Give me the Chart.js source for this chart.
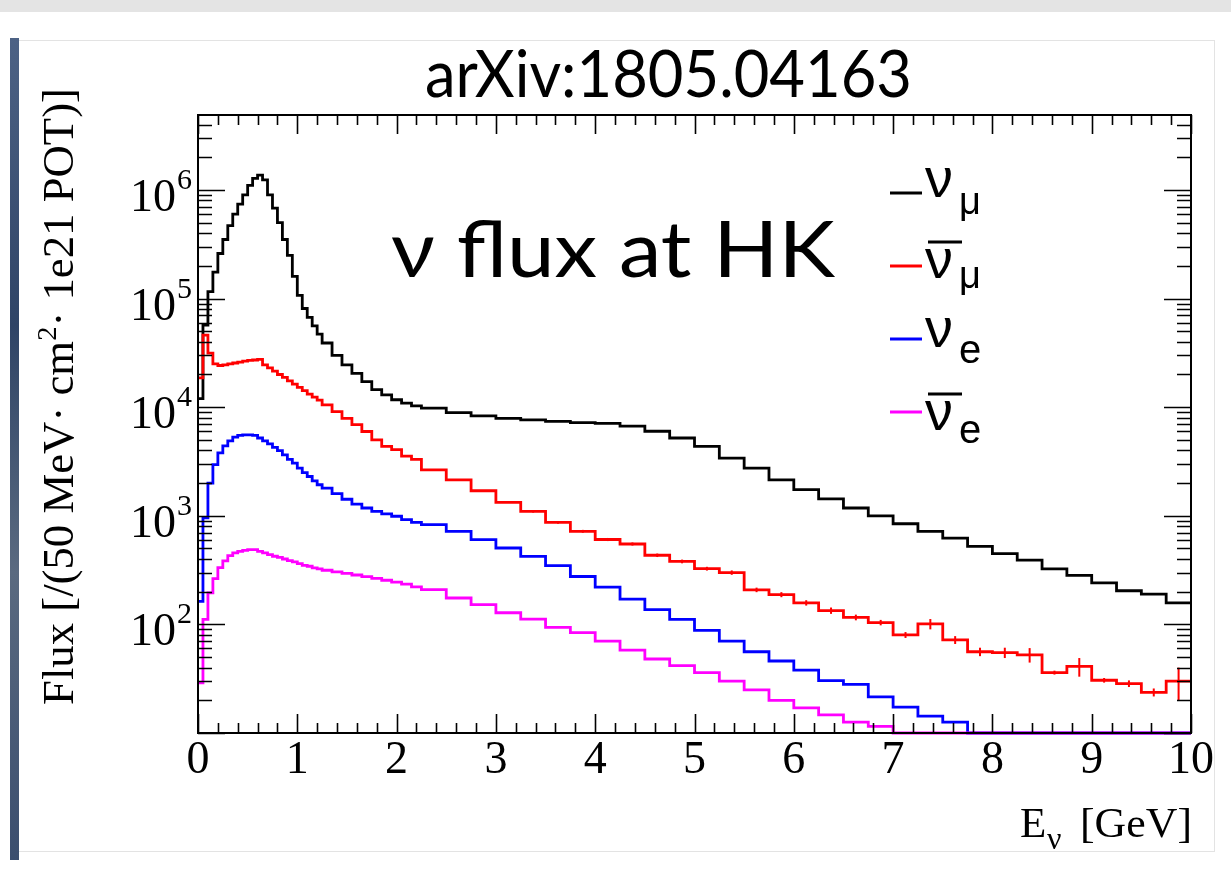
<!DOCTYPE html>
<html><head><meta charset="utf-8">
<script src="https://cdn.jsdelivr.net/npm/chart.js@4.4.1/dist/chart.umd.min.js"></script>
<style>
html,body{margin:0;padding:0;background:#fff;width:1231px;height:888px;overflow:hidden;}
#band{position:absolute;left:0;top:0;width:1231px;height:12px;background:#e4e4e4;}
#card{position:absolute;left:19px;top:40px;width:1195px;height:810px;border:1px solid #e3e3e3;border-left:none;}
#strip{position:absolute;left:10px;top:38px;width:9px;height:822px;background:linear-gradient(#4d6285,#2f4466 35%,#5a6a80 65%,#3b4e6e);}
#wrap{position:absolute;left:0;top:0;width:1231px;height:888px;}
</style></head><body>
<div id="band"></div><div id="card"></div><div id="strip"></div>
<div id="wrap"><canvas id="c" width="1231" height="888"></canvas></div>
<script>
// ---- data ----
const chartTitle = 'arXiv:1805.04163';
const annotation = '\u03bd flux at HK';
const xTickLabels = ['0','1','2','3','4','5','6','7','8','9','10'];
const yTickExponents = ['2','3','4','5','6'];
const binEdgesGeV = [0,0.05,0.1,0.15,0.2,0.25,0.3,0.35,0.4,0.45,0.5,0.55,0.6,0.65,0.7,0.75,0.8,0.85,0.9,0.95,1.0,1.05,1.1,1.15,1.2,1.25,
  1.35,1.45,1.55,1.65,1.75,1.85,1.95,2.05,2.15,2.25,
  2.5,2.75,3.0,3.25,3.5,3.75,4.0,4.25,4.5,4.75,5.0,5.25,5.5,5.75,6.0,6.25,6.5,6.75,7.0,7.25,7.5,7.75,8.0,8.25,8.5,8.75,9.0,9.25,9.5,9.75,10.0];
const fluxNumu = [12000,57000,116000,175000,260000,350000,470000,600000,740000,900000,1100000,1280000,1370000,1240000,900000,680000,500000,350000,250000,160000,107000,81000,67000,56000,47000,
  39000,30000,24500,20500,17200,14500,13000,11700,10900,10300,
  9800,8900,8300,7900,7650,7400,7200,7100,6700,6000,5200,4360,3400,2750,2140,1740,1430,1180,1000,845,720,624,523,448,390,325,283,241,204,190,158];
const fluxNumubar = [18600,46000,31500,25000,24200,24500,25000,25500,26000,26500,27000,27200,27500,24500,23000,21500,20000,18800,17500,16300,15200,14200,13200,12400,11600,
  10500,9100,7900,6900,5970,5000,4360,4070,3550,3300,
  2650,2140,1700,1330,1100,870,720,605,550,433,380,326,300,208,188,158,134,116,104,80,101,72,56,55,52.5,36,41,30.6,28.5,23.7,30];
const errNumubar = [0,0,0,0,0,0,0,0,0,0,0,0,0,0,0,0,0,0,0,0,0,0,0,0,0,
  0,0,0,0,0,0,0,0,0,0,
  0,0,0,0,30,25,22,20,18,16,15,13,14,10,10,9,9,7,6,5,11,6,5,6,8,1.5,8,1.5,2,2,10];
const fluxNue = [163,955,2000,2960,3800,4400,4900,5300,5500,5570,5570,5500,5200,4900,4600,4270,3980,3630,3300,3050,2750,2500,2300,2100,1930,
  1800,1600,1420,1280,1180,1100,1040,990,920,870,
  828,720,603,505,423,347,276,220,171,137,111,88,70,56,46,38,30.4,28,21.5,17.3,14.3,12.6,10,10,10,10,10,10,10,10,10];
const fluxNuebar = [29,111,195,264,333,384,430,455,471,481,488,488,471,455,439,424,414,400,386,376,362,350,343,331,324,
  315,305,295,285,275,265,255,245,235,222,
  209,175,152,128,112,94,84,70,58,48,41.7,36,30,25,20,17,14.7,12.6,11.5,10,10,10,10,10,10,10,10,10,10,10,10];
const seriesNames = ['\u03bd_\u03bc', 'anti-\u03bd_\u03bc', '\u03bd_e', 'anti-\u03bd_e'];
const seriesSub = ['\u03bc','\u03bc','e','e'];
const seriesBar = [false,true,false,true];
const seriesColors = ['#000000','#ff0000','#0000ff','#ff00ff'];

// ---- build ----
function histPoints(vals){
  const pts = vals.map((v,i)=>({x:binEdgesGeV[i], y:v}));
  pts.push({x:binEdgesGeV[binEdgesGeV.length-1], y:vals[vals.length-1]});
  return pts;
}
const allSeries = [fluxNumu, fluxNumubar, fluxNue, fluxNuebar];
const datasets = allSeries.map((vals,i)=>({
  label: seriesNames[i], data: histPoints(vals), stepped: true,
  borderColor: seriesColors[i], borderWidth: 2.8, pointRadius: 0, fill: false,
  borderJoinStyle: 'miter', borderCapStyle: 'butt', order: 3 - i, clip: 3
}));

const SERIF = "'Liberation Serif', 'Times New Roman', serif";
const SANS = "'Liberation Sans', Arial, sans-serif";

function fitText(ctx, str, font, x, y, w){
  ctx.font = font;
  const m = ctx.measureText(str).width;
  ctx.save(); ctx.translate(x, y); ctx.scale(w/m, 1);
  ctx.textAlign='left'; ctx.textBaseline='alphabetic'; ctx.fillText(str, 0, 0); ctx.restore();
}

const rootFrame = {
  id: 'rootFrame',
  afterDatasetsDraw(chart){
    const {ctx, chartArea:a, scales:{x, y}} = chart;
    ctx.save();
    // error bars of anti-numu
    ctx.strokeStyle = seriesColors[1]; ctx.lineWidth = 2;
    errNumubar.forEach((e,i)=>{
      if(!e) return;
      const v = fluxNumubar[i];
      const px = x.getPixelForValue((binEdgesGeV[i]+binEdgesGeV[i+1])/2);
      ctx.beginPath();
      ctx.moveTo(px, y.getPixelForValue(v+e));
      ctx.lineTo(px, y.getPixelForValue(v-e));
      ctx.stroke();
    });
    // frame
    ctx.strokeStyle = '#000'; ctx.lineWidth = 2;
    ctx.strokeRect(a.left, a.top, a.right-a.left, a.bottom-a.top);
    // x ticks (bottom & top)
    ctx.lineWidth = 1.6;
    ctx.beginPath();
    for(let k=0;k<=50;k++){
      const v = k*0.2; const px = Math.round(x.getPixelForValue(v))+0.5;
      const len = (k%5===0) ? 19 : 10;
      ctx.moveTo(px, a.bottom); ctx.lineTo(px, a.bottom-len);
      ctx.moveTo(px, a.top); ctx.lineTo(px, a.top+len);
    }
    // y ticks (left & right)
    for(let d=1; d<=6; d++){
      for(let m=1; m<=9; m++){
        const v = m*Math.pow(10,d);
        if (v > y.max*1.0001 || v < y.min*0.9999) continue;
        const py = Math.round(y.getPixelForValue(v))+0.5;
        const len = (m===1) ? 27 : 14;
        ctx.moveTo(a.left, py); ctx.lineTo(a.left+len, py);
        ctx.moveTo(a.right, py); ctx.lineTo(a.right-len, py);
      }
    }
    ctx.stroke();
    ctx.restore();
  },
  afterDraw(chart){
    const {ctx, scales:{y}} = chart;
    ctx.save();
    ctx.fillStyle = '#000';
    // y tick labels 10^n
    yTickExponents.forEach(e=>{
      const py = y.getPixelForValue(Math.pow(10, +e));
      ctx.font = '46px ' + SERIF; ctx.textAlign='right'; ctx.textBaseline='alphabetic';
      ctx.fillText('10', 176, py+21);
      ctx.font = '30px ' + SERIF; ctx.textAlign='left';
      ctx.fillText(e, 177, py-1);
    });
    // title
    fitText(ctx, chartTitle, '400 66px Lato', 425, 97, 487);
    // annotation
    fitText(ctx, annotation, '400 78px Lato', 391, 277, 444);
    // y axis title (rotated)
    const parts = [
      {t:'Flux [/(50 MeV\u00b7 cm', f:'44px '+SERIF, dy:0},
      {t:'2', f:'28px '+SERIF, dy:-17},
      {t:'\u00b7 1e21 POT)]', f:'44px '+SERIF, dy:0}
    ];
    let W = 0; parts.forEach(p=>{ctx.font=p.f; p.w=ctx.measureText(p.t).width; W+=p.w;});
    ctx.save(); ctx.translate(73, 705); ctx.rotate(-Math.PI/2); ctx.scale(617/W, 1);
    ctx.textAlign='left'; ctx.textBaseline='alphabetic';
    let cx = 0; parts.forEach(p=>{ctx.font=p.f; ctx.fillText(p.t, cx, p.dy); cx+=p.w;});
    ctx.restore();
    // x axis title
    ctx.font = '43px ' + SERIF; ctx.textAlign='left';
    ctx.fillText('E', 1020, 837);
    ctx.font = '32px ' + SERIF;
    ctx.fillText('\u03bd', 1047, 849);
    fitText(ctx, '[GeV]', '43px ' + SERIF, 1080, 837, 112);
    // legend
    const lineY = [193, 266, 339, 412];
    const nuBase = [197, 278, 347, 430];
    const subBase = [214, 288, 363, 443];
    for(let i=0;i<4;i++){
      ctx.strokeStyle = seriesColors[i]; ctx.lineWidth = 3;
      ctx.beginPath(); ctx.moveTo(890, lineY[i]); ctx.lineTo(922, lineY[i]); ctx.stroke();
      ctx.fillStyle = '#000'; ctx.textAlign='left';
      ctx.font = '56px ' + SANS;
      ctx.fillText('\u03bd', 925, nuBase[i]);
      if (seriesBar[i]) {
        ctx.strokeStyle = '#000'; ctx.lineWidth = 3;
        ctx.beginPath(); ctx.moveTo(928, nuBase[i]-36); ctx.lineTo(962, nuBase[i]-36); ctx.stroke();
      }
      ctx.font = (seriesSub[i]==='e' ? '40px ' : '38px ') + SANS;
      ctx.fillText(seriesSub[i], 959, subBase[i]);
    }
    ctx.restore();
  }
};

new Chart(document.getElementById('c'), {
  type: 'line',
  data: { datasets },
  options: {
    responsive: false, animation: false, devicePixelRatio: 1,
    layout: { padding: { left: 0, right: 40, top: 115, bottom: 0 } },
    plugins: { legend: { display: false }, tooltip: { enabled: false }, title: { display: false } },
    scales: {
      x: {
        type: 'linear', min: 0, max: 10,
        grid: { display: false, drawTicks: false }, border: { display: false },
        ticks: { stepSize: 1, maxRotation: 0, autoSkip: false, padding: 0, color: '#000',
          font: { family: SERIF, size: 46, lineHeight: 1.2 },
          callback: (v) => xTickLabels[Math.round(v)] ?? '' },
        afterFit: (s) => { s.height = 155; }
      },
      y: {
        type: 'logarithmic', min: 10, max: 4.9e6,
        grid: { display: false, drawTicks: false }, border: { display: false },
        ticks: { display: false },
        afterFit: (s) => { s.width = 198; }
      }
    }
  },
  plugins: [rootFrame]
});
</script>
</body></html>
